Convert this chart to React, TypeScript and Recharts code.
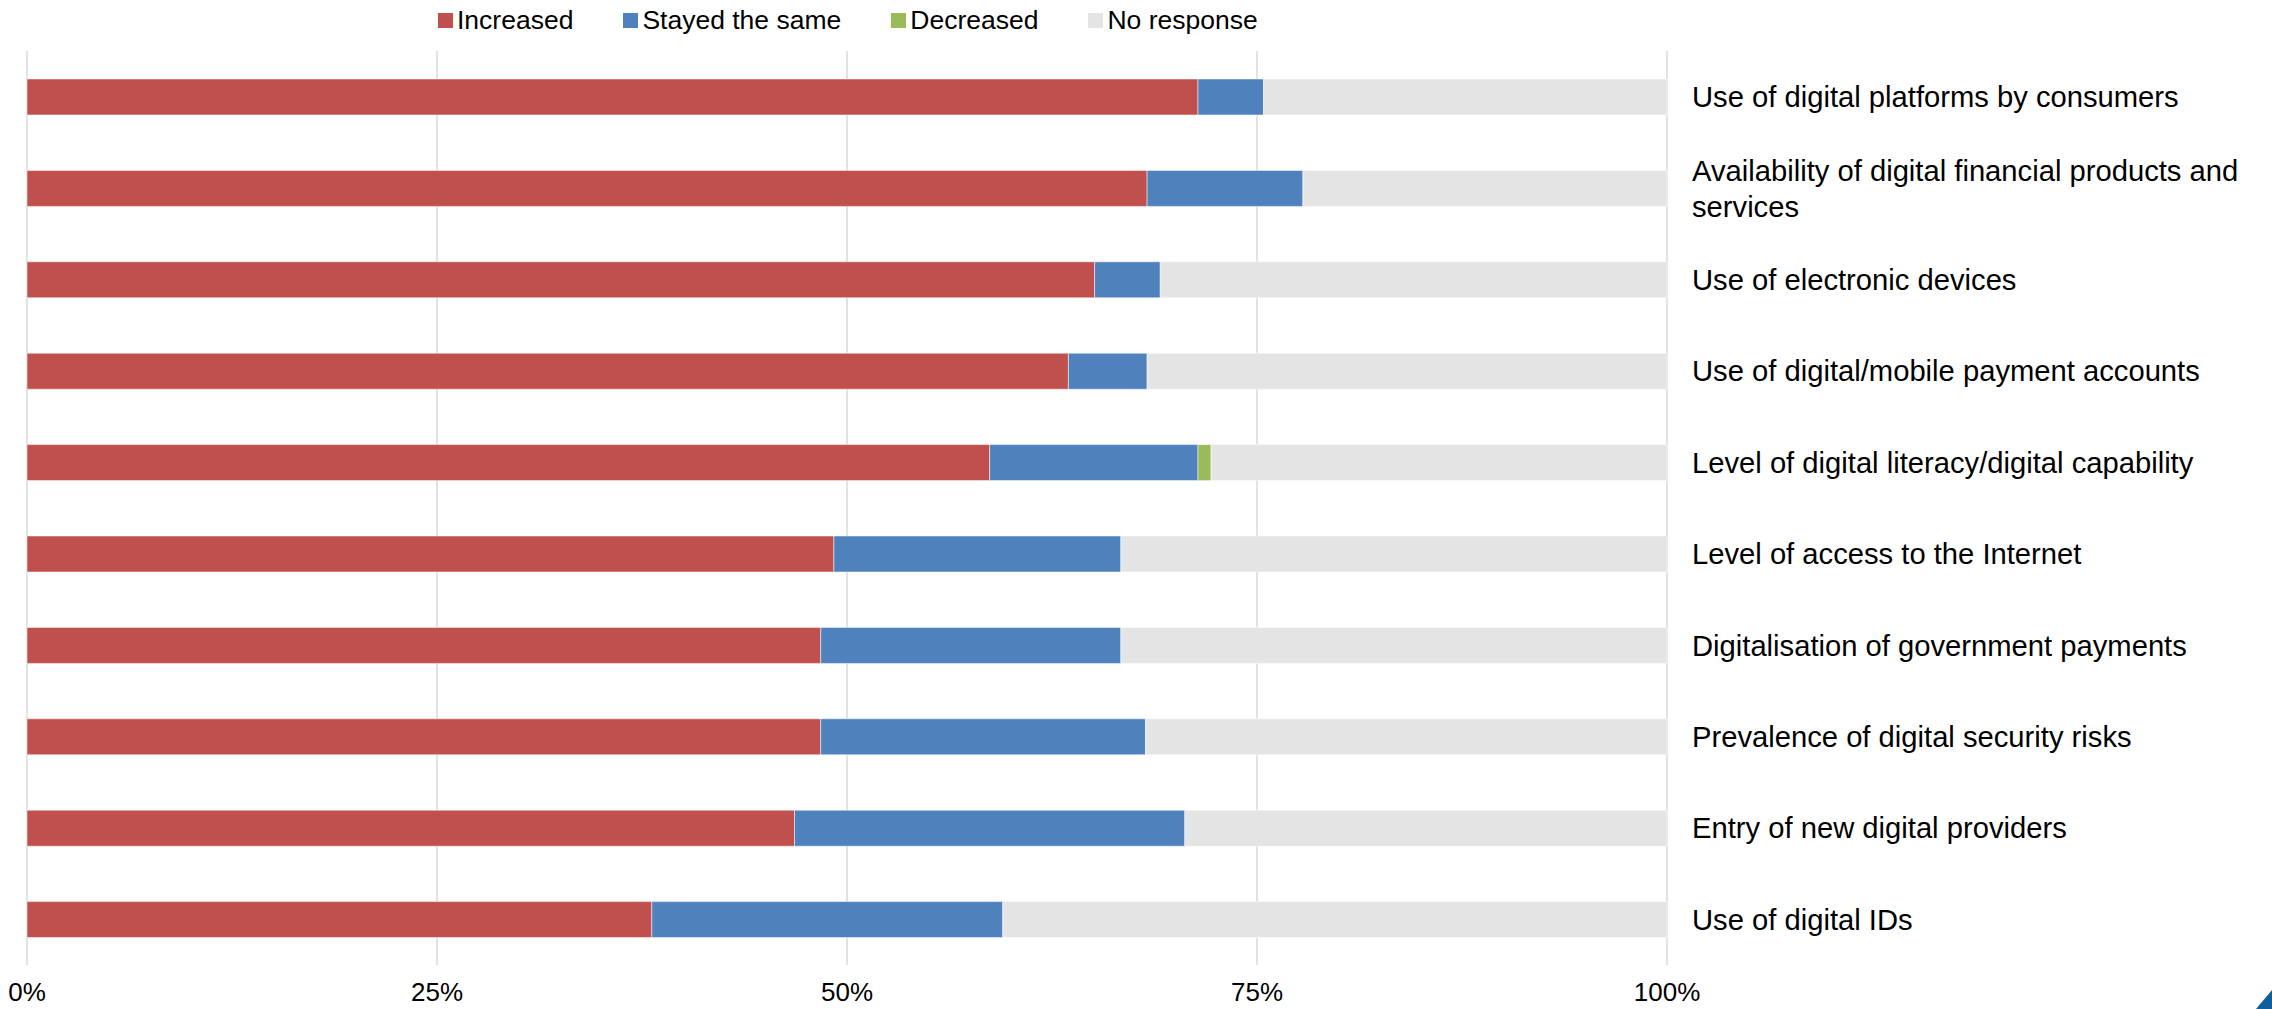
import { BarChart, Bar, XAxis, YAxis, CartesianGrid, Legend } from 'recharts';

const categories = [
  'Use of digital platforms by consumers',
  'Availability of digital financial products and services',
  'Use of electronic devices',
  'Use of digital/mobile payment accounts',
  'Level of digital literacy/digital capability',
  'Level of access to the Internet',
  'Digitalisation of government payments',
  'Prevalence of digital security risks',
  'Entry of new digital providers',
  'Use of digital IDs',
];

const increased = [71.4, 68.3, 65.1, 63.5, 58.7, 49.2, 48.4, 48.4, 46.8, 38.1];
const stayedSame = [4.0, 9.5, 4.0, 4.8, 12.7, 17.5, 18.3, 19.8, 23.8, 21.4];
const decreased = [0, 0, 0, 0, 0.8, 0, 0, 0, 0, 0];
const noResponse = [24.6, 22.2, 30.9, 31.7, 27.8, 33.3, 33.3, 31.8, 29.4, 40.5];

const xTicks = [0, 25, 50, 75, 100];

const series = [
  { key: 'increased', name: 'Increased', color: '#C0504D' },
  { key: 'stayed', name: 'Stayed the same', color: '#4F81BD' },
  { key: 'decreased', name: 'Decreased', color: '#9BBB59' },
  { key: 'noResponse', name: 'No response', color: '#E4E4E4' },
];

const data = categories.map((name, i) => ({
  name,
  increased: increased[i],
  stayed: stayedSame[i],
  decreased: decreased[i],
  noResponse: noResponse[i],
}));

const FONT = 'Arial, "Liberation Sans", sans-serif';

// split long labels into lines of at most maxChars
const wrap = (label: string, maxChars = 46) => {
  const words = label.split(' ');
  const lines: string[] = [];
  let cur = '';
  words.forEach((w) => {
    const next = cur ? cur + ' ' + w : w;
    if (next.length > maxChars && cur) {
      lines.push(cur);
      cur = w;
    } else {
      cur = next;
    }
  });
  if (cur) lines.push(cur);
  return lines;
};

const CategoryTick = (props: any) => {
  const { x, y, payload } = props;
  const lines = wrap(String(payload.value));
  const lh = 36;
  const start = y - ((lines.length - 1) * lh) / 2;
  return (
    <text x={x + 25} y={start} textAnchor="start" fontSize={29.2} fontFamily={FONT} fill="#000">
      {lines.map((l, i) => (
        <tspan key={i} x={x + 25} y={start + i * lh} dy={10.4}>
          {l}
        </tspan>
      ))}
    </text>
  );
};

const LegendContent = () => (
  <div style={{ display: 'flex', alignItems: 'center', height: 40, paddingLeft: 438, fontFamily: FONT, fontSize: 26.5, color: '#000' }}>
    {series.map((s) => (
      <div key={s.key} style={{ display: 'flex', alignItems: 'center', marginRight: 50 }}>
        <span style={{ width: 15, height: 15, background: s.color, marginRight: 4, display: 'inline-block' }} />
        <span style={{ lineHeight: '40px', whiteSpace: 'nowrap' }}>{s.name}</span>
      </div>
    ))}
  </div>
);

export default function App() {
  return (
    <div style={{ position: 'absolute', left: 0, top: 0, width: 2272, height: 1009, background: '#fff' }}>
      <BarChart
        width={2272}
        height={1009}
        data={data}
        layout="vertical"
        margin={{ top: 11, right: 0, bottom: 0, left: 27 }}
        barSize={36}
      >
        <CartesianGrid horizontal={false} stroke="#e3e3e3" strokeWidth={2} />
        <XAxis
          type="number"
          domain={[0, 100]}
          ticks={xTicks}
          tickFormatter={(v) => `${v}%`}
          axisLine={false}
          tickLine={false}
          tickSize={0}
          tickMargin={18}
          height={44}
          interval={0}
          tick={{ fontSize: 26, fontFamily: FONT, fill: '#000' }}
        />
        <YAxis
          type="category"
          dataKey="name"
          orientation="right"
          width={605}
          axisLine={false}
          tickLine={false}
          tickSize={0}
          tickMargin={0}
          interval={0}
          tick={<CategoryTick />}
        />
        <Legend verticalAlign="top" wrapperStyle={{ top: 0, left: 0, width: 2272 }} content={<LegendContent />} />
        {series.map((s) => (
          <Bar
            key={s.key}
            dataKey={s.key}
            name={s.name}
            stackId="a"
            fill={s.color}
            stroke="#ffffff"
            strokeOpacity={0.5}
            strokeWidth={1}
            isAnimationActive={false}
          />
        ))}
      </BarChart>
      <svg width={2272} height={1009} style={{ position: 'absolute', left: 0, top: 0, pointerEvents: 'none' }}>
        <polygon points="2256,1009 2272,990 2272,1009" fill="#0d5f9e" />
      </svg>
    </div>
  );
}
